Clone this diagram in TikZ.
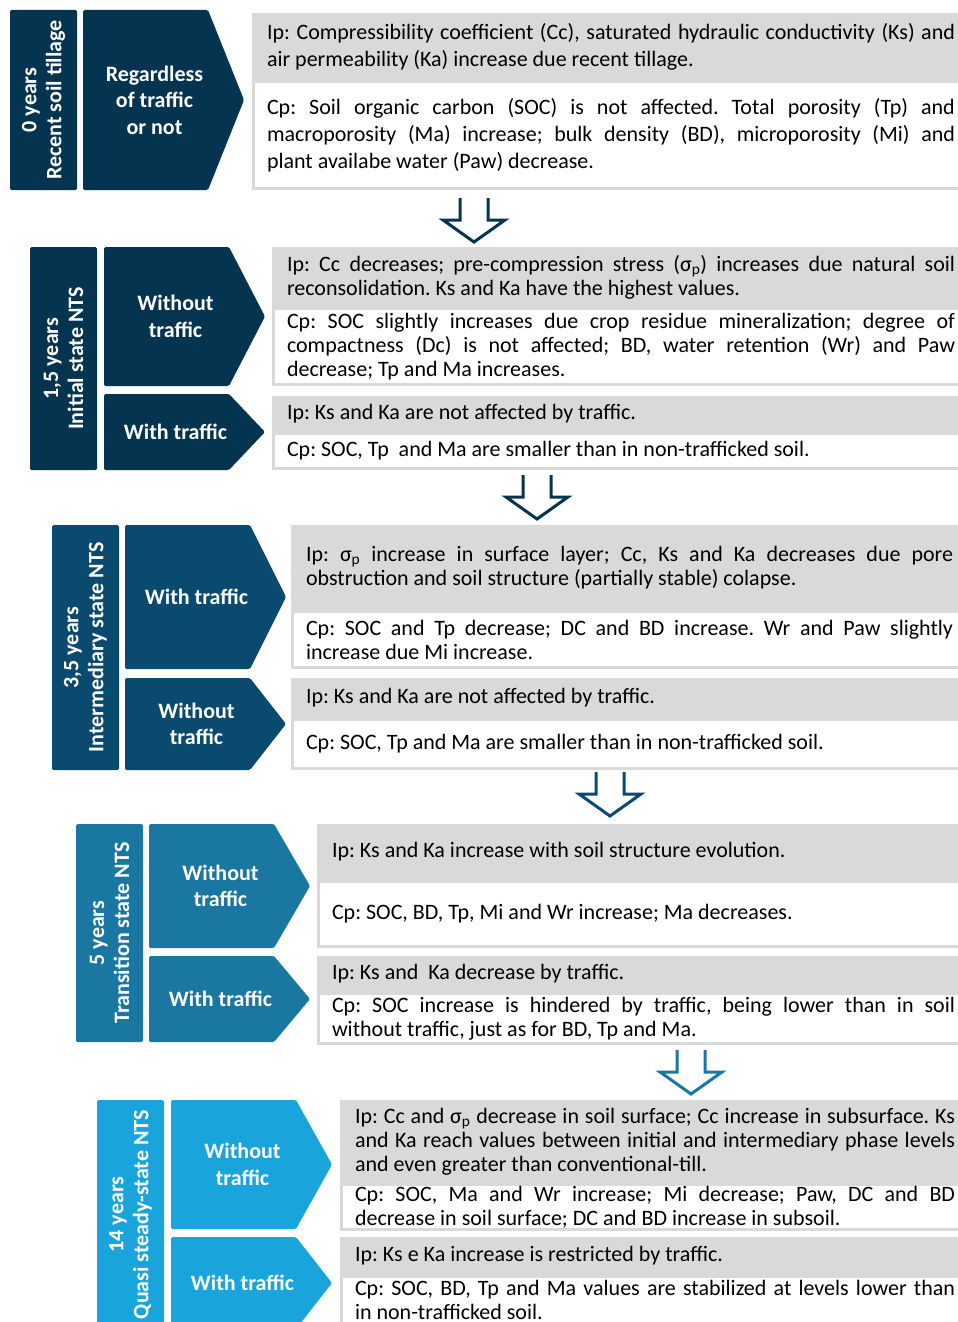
\documentclass[tikz,border=0pt]{standalone}
\usepackage{fontspec}
\setmainfont{Carlito}
\usepackage{xcolor}
\usetikzlibrary{positioning}

\definecolor{stageA}{HTML}{043450}
\definecolor{stageB}{HTML}{0A4A6E}
\definecolor{stageC}{HTML}{1A77A1}
\definecolor{stageD}{HTML}{19A5DC}
\definecolor{boxgray}{HTML}{D9D9D9}

\frenchspacing
\hyphenpenalty=10000
\exhyphenpenalty=10000

\tikzset{
	yearbar/.style={fill=#1, rounded corners=1.5pt, minimum width=67pt, inner sep=0pt, outer sep=0pt, anchor=north west},
	yeartxt/.style={rotate=90, text=white, align=center, inner sep=0pt, font=\bfseries\fontsize{22}{25}\selectfont},
	chev/.style={fill=white, minimum width=161pt, inner sep=0pt, outer sep=0pt,
		path picture={\fill[#1, rounded corners=1.5pt] (path picture bounding box.north west) -- ([xshift=-36pt]path picture bounding box.north east) -- (path picture bounding box.east) -- ([xshift=-36pt]path picture bounding box.south east) -- (path picture bounding box.south west) -- cycle;}},
	chevtxt/.style={text=white, align=center, inner sep=0pt, xshift=-9pt, font=\bfseries\fontsize{22}{26.5}\selectfont},
	ip/.style={fill=boxgray, text width=#1, inner xsep=15pt, inner ysep=0pt, outer sep=0pt, align=justify, font=\fontsize{22}{24}\selectfont},
	cp/.style={fill=white, draw=boxgray, line width=3pt, outer sep=1.5pt, text width=#1, inner xsep=13.5pt, inner ysep=0pt, align=justify, font=\fontsize{22}{24}\selectfont},
	downarr/.pic={\draw[line width=3pt] (-14,0) -- (-14,22) -- (-31,22) -- (0,44) -- (31,22) -- (14,22) -- (14,0);}
}

\begin{document}
\begin{tikzpicture}[x=1pt, y=-1pt]
	\useasboundingbox (0,0) rectangle (958,1322);

	% 0 years
	\node[yearbar=stageA, minimum height=180pt, label={[yeartxt]center:{0 years\\Recent soil tillage}}] (y0) at (10,10) {};
	\node[chev=stageA, minimum height=180pt, below right=0pt and 6pt of y0.north east, label={[chevtxt]center:{Regardless\\of traffic\\or not}}] (c0) {};
	\node[ip=688pt, minimum height=67pt, below right=3pt and 8pt of c0.north east, font=\fontsize{22}{27}\selectfont] (i0) {Ip: Compressibility coefficient (Cc), saturated hydraulic conductivity (Ks) and\linebreak air permeability (Ka) increase due recent tillage.};
	\node[cp=688pt, minimum height=107pt, anchor=north west, font=\fontsize{22}{27}\selectfont] (p0) at (i0.south west) {Cp: Soil organic carbon (SOC) is not affected. Total porosity (Tp) and\linebreak macroporosity (Ma) increase; bulk density (BD), microporosity (Mi) and\linebreak plant availabe water (Paw) decrease.};

	% 1,5 years
	\node[yearbar=stageA, minimum height=223pt, label={[yeartxt]center:{1,5 years\\Initial state NTS}}] (y1) at (30,247) {};
	\node[chev=stageA, minimum height=139pt, below right=0pt and 7pt of y1.north east, label={[chevtxt]center:{Without\\traffic}}] (c1a) {};
	\node[chev=stageA, minimum height=76pt, below right=8pt and 0pt of c1a.south west, label={[chevtxt]center:{With traffic}}] (c1b) {};
	\node[ip=668pt, minimum height=60pt, below right=0pt and 7pt of c1a.north east] (i1a) {Ip: Cc decreases; pre-compression stress (σ\textsubscript{p}) increases due natural soil\linebreak reconsolidation. Ks and Ka have the highest values.};
	\node[cp=668pt, minimum height=76pt, anchor=north west] (p1a) at (i1a.south west) {Cp: SOC slightly increases due crop residue mineralization; degree of\linebreak compactness (Dc) is not affected; BD, water retention (Wr) and Paw\linebreak decrease; Tp and Ma increases.};
	\node[ip=668pt, minimum height=36pt, below right=2pt and 7pt of c1b.north east] (i1b) {Ip: Ks and Ka are not affected by traffic.};
	\node[cp=668pt, minimum height=35pt, anchor=north west] (p1b) at (i1b.south west) {Cp: SOC, Tp\ \ and Ma are smaller than in non-trafficked soil.};

	% 3,5 years
	\node[yearbar=stageB, minimum height=245pt, label={[yeartxt]center:{3,5 years\\Intermediary state NTS}}] (y2) at (52,525) {};
	\node[chev=stageB, minimum height=144pt, below right=0pt and 6pt of y2.north east, label={[chevtxt]center:{With traffic}}] (c2a) {};
	\node[chev=stageB, minimum height=92pt, below right=9pt and 0pt of c2a.south west, label={[chevtxt]center:{Without\\traffic}}] (c2b) {};
	\node[ip=647pt, minimum height=85pt, below right=0pt and 5pt of c2a.north east] (i2a) {Ip: σ\textsubscript{p} increase in surface layer; Cc, Ks and Ka decreases due pore\linebreak obstruction and soil structure (partially stable) colapse.};
	\node[cp=647pt, minimum height=56pt, anchor=north west] (p2a) at (i2a.south west) {Cp: SOC and Tp decrease; DC and BD increase. Wr and Paw slightly\linebreak increase due Mi increase.};
	\node[ip=647pt, minimum height=40pt, below right=0pt and 5pt of c2b.north east] (i2b) {Ip: Ks and Ka are not affected by traffic.};
	\node[cp=647pt, minimum height=49pt, anchor=north west] (p2b) at (i2b.south west) {Cp: SOC, Tp and Ma are smaller than in non-trafficked soil.};

	% 5 years
	\node[yearbar=stageC, minimum height=218pt, label={[yeartxt]center:{5 years\\Transition state NTS}}] (y3) at (76,824) {};
	\node[chev=stageC, minimum height=124pt, below right=0pt and 6pt of y3.north east, label={[chevtxt]center:{Without\\traffic}}] (c3a) {};
	\node[chev=stageC, minimum height=86pt, below right=8pt and 0pt of c3a.south west, label={[chevtxt]center:{With traffic}}] (c3b) {};
	\node[ip=623pt, minimum height=56pt, below right=0pt and 7pt of c3a.north east] (i3a) {Ip: Ks and Ka increase with soil structure evolution.};
	\node[cp=623pt, minimum height=65pt, anchor=north west] (p3a) at (i3a.south west) {Cp: SOC, BD, Tp, Mi and Wr increase; Ma decreases.};
	\node[ip=623pt, minimum height=36pt, below right=0pt and 7pt of c3b.north east] (i3b) {Ip: Ks and\ \ Ka decrease by traffic.};
	\node[cp=623pt, minimum height=50pt, anchor=north west] (p3b) at (i3b.south west) {Cp: SOC increase is hindered by traffic, being lower than in soil\linebreak without traffic, just as for BD, Tp and Ma.};

	% 14 years
	\node[yearbar=stageD, minimum height=229pt, label={[yeartxt]center:{14 years\\Quasi steady-state NTS}}] (y4) at (97,1100) {};
	\node[chev=stageD, minimum height=129pt, below right=0pt and 7pt of y4.north east, label={[chevtxt]center:{Without\\traffic}}] (c4a) {};
	\node[chev=stageD, minimum height=92pt, below right=8pt and 0pt of c4a.south west, label={[chevtxt]center:{With traffic}}] (c4b) {};
	\node[ip=600pt, minimum height=83pt, below right=0pt and 8pt of c4a.north east] (i4a) {Ip: Cc and σ\textsubscript{p} decrease in soil surface; Cc increase in subsurface. Ks\linebreak and Ka reach values between initial and intermediary phase levels\linebreak and even greater than conventional-till.};
	\node[cp=600pt, minimum height=45pt, anchor=north west] (p4a) at (i4a.south west) {Cp: SOC, Ma and Wr increase; Mi decrease; Paw, DC and BD\linebreak decrease in soil surface; DC and BD increase in subsoil.};
	\node[ip=600pt, minimum height=38pt, below right=0pt and 8pt of c4b.north east] (i4b) {Ip: Ks e Ka increase is restricted by traffic.};
	\node[cp=600pt, minimum height=47pt, anchor=north west] (p4b) at (i4b.south west) {Cp: SOC, BD, Tp and Ma values are stabilized at levels lower than\linebreak in non-trafficked soil.};

	% arrows between stages
	\coordinate (a1) at (474,198);
	\coordinate (a2) at (537,475);
	\coordinate (a3) at (610,772);
	\coordinate (a4) at (691,1050);
	\pic[color=stageA] at (a1) {downarr};
	\pic[color=stageA] at (a2) {downarr};
	\pic[color=stageB] at (a3) {downarr};
	\pic[color=stageC] at (a4) {downarr};
\end{tikzpicture}
\end{document}
